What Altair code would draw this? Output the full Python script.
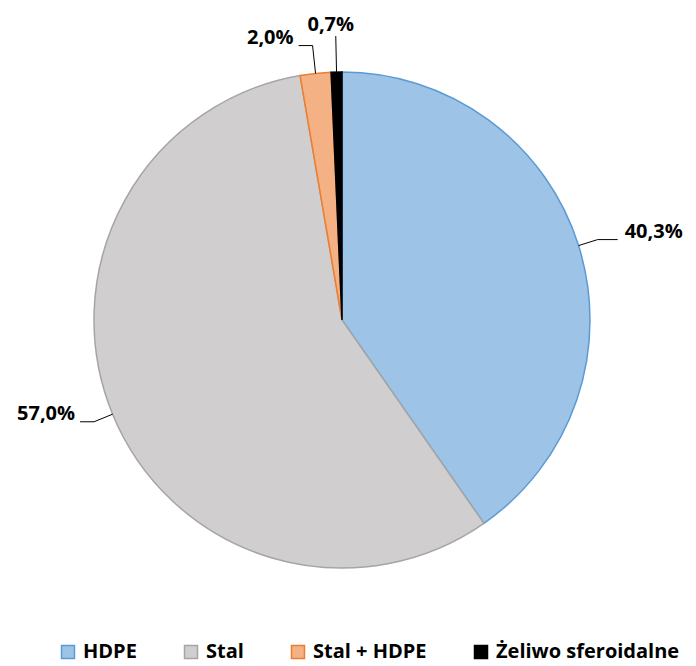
import altair as alt
import pandas as pd

categories = ["HDPE", "Stal", "Stal + HDPE", "Żeliwo sferoidalne"]
shares = [40.3, 57.0, 2.0, 0.7]
fills = ["#9DC3E6", "#D0CECE", "#F4B183", "#000000"]
strokes = ["#5B9BD5", "#A5A5A5", "#ED7D31", "#000000"]

df = pd.DataFrame({"cat": categories, "share": shares, "idx": list(range(len(categories)))})

CX, CY, R = 334, 302, 248
FONT = "Open Sans"
WEIGHT = "bold"
FS_LABEL = 20
FS_LEGEND = 20

base = alt.Chart(df).transform_joinaggregate(
    total="sum(share)"
).transform_window(
    cum="sum(share)", sort=[alt.SortField("idx")], frame=[None, 0]
).transform_calculate(
    a="2*PI*(datum.cum - datum.share/2)/datum.total",
    side="sin(datum.a) >= 0 ? 1 : -1",
    ext="datum.share < 1 ? 36 : (datum.share < 5 ? 28 : 20)",
    h="datum.share < 1 ? 0 : (datum.side > 0 ? 20 : 14)",
    x0=f"{CX} + {R}*sin(datum.a)",
    y0=f"{CY} - {R}*cos(datum.a)",
    x1=f"{CX} + ({R}+datum.ext)*sin(datum.a)",
    y1=f"{CY} - ({R}+datum.ext)*cos(datum.a)",
    x2="datum.x1 + datum.side*datum.h",
    y2="datum.y1",
    tx="datum.h == 0 ? datum.x2 - 5 : datum.x2 + datum.side*(datum.side > 0 ? 7 : 5)",
    ty="datum.h == 0 ? datum.y2 - 5 : datum.y2 - 2",
    label="replace(format(datum.share, '.1f'), '.', ',') + '%'",
)

pie = alt.Chart(df).mark_arc(outerRadius=R, strokeWidth=1.5).encode(
    theta=alt.Theta("share:Q", stack=True),
    order=alt.Order("idx:Q"),
    color=alt.Color(
        "cat:N",
        scale=alt.Scale(domain=categories, range=fills),
        legend=alt.Legend(
            orient="none", legendX=50, legendY=624, direction="horizontal",
            title=None, symbolType="square", symbolSize=169,
            symbolStrokeWidth=1.5, labelFont=FONT, labelFontWeight=WEIGHT,
            labelFontSize=FS_LEGEND, labelColor="black", columnPadding=44,
            labelOffset=5, labelLimit=400,
        ),
    ),
    stroke=alt.Stroke("cat:N", scale=alt.Scale(domain=categories, range=strokes)),
    x=alt.value(CX),
    y=alt.value(CY),
)

xs = lambda f: alt.X(f, scale=None, axis=None)
ys = lambda f: alt.Y(f, scale=None, axis=None)

rule1 = base.mark_rule(color="black", strokeWidth=1).encode(
    x=xs("x0:Q"), y=ys("y0:Q"), x2="x1:Q", y2="y1:Q"
)
rule2 = base.mark_rule(color="black", strokeWidth=1).transform_filter(
    "datum.h > 0"
).encode(x=xs("x1:Q"), y=ys("y1:Q"), x2="x2:Q", y2="y2:Q")

txt_kw = dict(font=FONT, fontWeight=WEIGHT, fontSize=FS_LABEL, color="black", baseline="alphabetic")
t_right = base.mark_text(align="left", **txt_kw).transform_filter(
    "datum.h > 0 && datum.side > 0"
).encode(x=xs("tx:Q"), y=ys("ty:Q"), text="label:N")
t_left = base.mark_text(align="right", **txt_kw).transform_filter(
    "datum.h > 0 && datum.side < 0"
).encode(x=xs("tx:Q"), y=ys("ty:Q"), text="label:N")
t_top = base.mark_text(align="center", **txt_kw).transform_filter(
    "datum.h == 0"
).encode(x=xs("tx:Q"), y=ys("ty:Q"), text="label:N")

chart = alt.layer(pie, rule1, rule2, t_right, t_left, t_top).properties(
    width=680, height=648,
    padding={"left": 0, "top": 10, "right": 0, "bottom": 0},
    autosize=alt.AutoSizeParams(type="none"),
    background="white",
).configure_view(stroke=None)

chart.save("out.html", embed_options={"renderer": "svg", "actions": False})
